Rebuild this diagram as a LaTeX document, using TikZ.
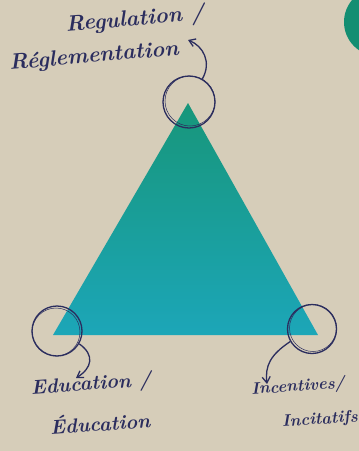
\documentclass[tikz,border=0pt]{standalone}
\usetikzlibrary{arrows.meta}
\definecolor{bg}{HTML}{D6CDB9}
\definecolor{navy}{HTML}{2B2D5E}
\definecolor{trtop}{HTML}{17967A}
\definecolor{trbot}{HTML}{1CA6B8}
\definecolor{dotgreen}{HTML}{138E72}
\tikzset{
  ring/.style={circle, draw=navy, line width=1.3pt, inner sep=0pt},
  pointer/.style={draw=navy, line width=1.3pt, -{Straight Barb[length=6pt,width=8pt]}},
  label/.style={text=navy, inner sep=0pt, align=center},
  big/.style={font=\bfseries\itshape\fontsize{22}{24}\selectfont},
  mid/.style={font=\bfseries\itshape\fontsize{20}{22}\selectfont},
  small/.style={font=\bfseries\itshape\fontsize{16.5}{18}\selectfont}
}
\begin{document}
\begin{tikzpicture}[x=1pt,y=-1pt]
\fill[bg] (0,0) rectangle (359,451);
\useasboundingbox (0,0) rectangle (359,451);
\clip (0,0) rectangle (359,451);
% partial green disc top right
\fill[dotgreen] (378,22) circle (34);
% triangle
\coordinate (apex) at (188,103);
\coordinate (bl) at (53,335);
\coordinate (br) at (318,335);
\shade[top color=trtop, bottom color=trbot] (apex) -- (br) -- (bl) -- cycle;
% rings
\node[ring, minimum size=52pt] (rtop) at (189,102) {};
\node[ring, minimum size=50pt] (rbl) at (57,331) {};
\node[ring, minimum size=49pt] (rbr) at (312,329) {};
\draw[navy, line width=0.5pt] (190,101) circle (25);
\draw[navy, line width=0.5pt] (56,332) circle (24);
\draw[navy, line width=0.5pt] (313,328) circle (23.5);
% labels
\node[label, big, rotate=5] (treg) at (135,20) {Regulation /};
\node[label, big, rotate=5] (tregfr) at (94,57) {Réglementation};
\node[label, mid, rotate=4] (tedu) at (91,385) {Education /};
\node[label, mid, rotate=4] (tedufr) at (100,422) {Éducation};
\node[label, small, rotate=4] (tinc) at (298,387) {Incentives/};
\node[label, small, rotate=4] (tincfr) at (320,420) {Incitatifs};
% arrows
\coordinate (atop) at (188,40);
\coordinate (abl) at (76,378);
\coordinate (abr) at (267,384);
\draw[pointer] (rtop.60) .. controls (212,62) and (203,46) .. (atop);
\draw[pointer] (rbl.-30) .. controls (95,355) and (92,368) .. (abl);
\draw[pointer] (rbr.210) .. controls (270,355) and (265,366) .. (abr);
\end{tikzpicture}
\end{document}
